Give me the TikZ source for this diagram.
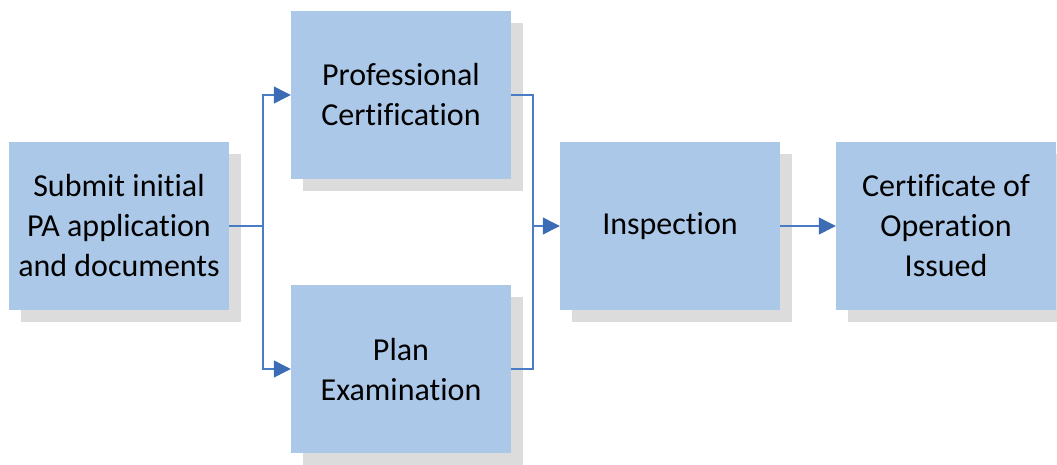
\documentclass[tikz,border=0pt]{standalone}
\usepackage{fontspec}
\setmainfont{Carlito}[Ligatures=NoCommon]
\usetikzlibrary{arrows.meta,shadows}
\definecolor{boxfill}{HTML}{ACC8E8}
\definecolor{shadowc}{HTML}{DCDCDC}
\definecolor{linec}{HTML}{4A7CC4}
\definecolor{tipc}{HTML}{3B6CB4}
\begin{document}
\begin{tikzpicture}[x=1pt,y=-1pt,
  stagebox/.style={rectangle, fill=boxfill, minimum width=220pt, minimum height=168pt,
    inner sep=0pt, align=center, font=\fontsize{32}{40}\selectfont,
    drop shadow={shadow xshift=12pt, shadow yshift=-12pt, fill=shadowc, opacity=1}},
  conn/.style={draw=linec, line width=1.2pt},
  arr/.style={conn, -{Triangle[length=17pt,width=17pt,fill=tipc,color=tipc]}}]
\useasboundingbox (0,0) rectangle (1057,464);
\node[stagebox] (sub) at (119,226) {Submit initial\\PA application\\and documents};
\node[stagebox] (prof) at (401,95) {Professional\\Certification};
\node[stagebox] (plan) at (401,369) {Plan\\Examination};
\node[stagebox] (insp) at (670,226) {Inspection};
\node[stagebox] (cert) at (946,226) {Certificate of\\Operation\\Issued};
\coordinate (j1) at (263,226);
\coordinate (j2) at (533,226);
\draw[conn] (sub.east) -- (j1);
\draw[arr] (j1) |- (prof.west);
\draw[arr] (j1) |- (plan.west);
\draw[conn] (prof.east) -| (j2);
\draw[conn] (plan.east) -| (j2);
\draw[arr] (j2) -- (insp.west);
\draw[arr] (insp.east) -- (cert.west);
\end{tikzpicture}
\end{document}
